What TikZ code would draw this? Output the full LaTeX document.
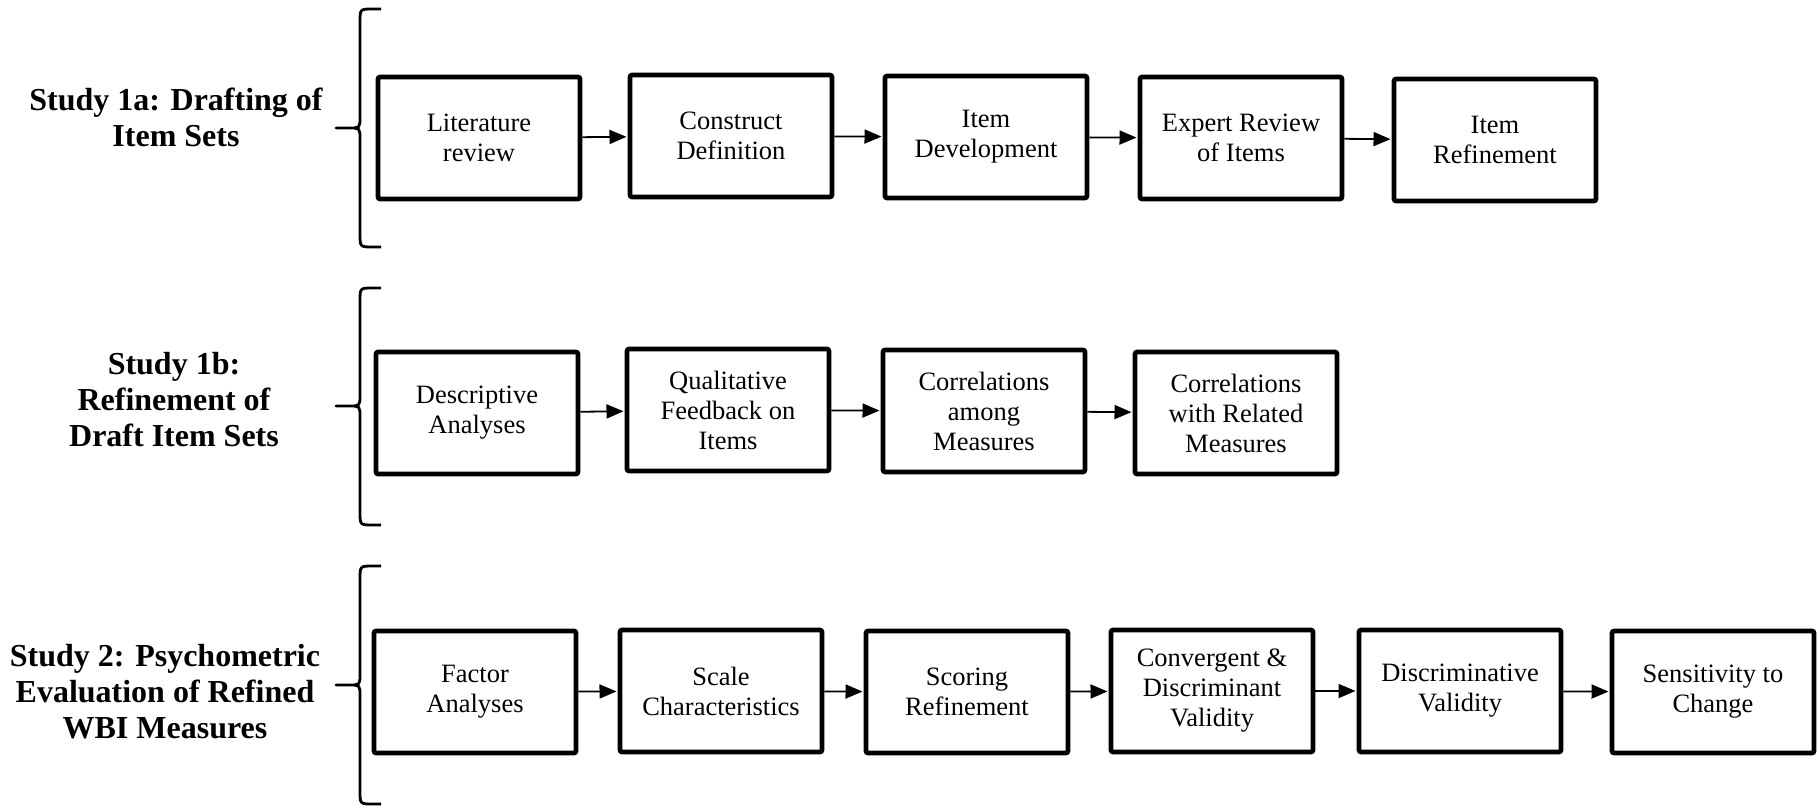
\documentclass[tikz,border=0pt]{standalone}
\usepackage{fontspec}
\setmainfont{Liberation Serif}
\newfontfamily\boxfont{Liberation Serif}
\usetikzlibrary{arrows.meta}

\begin{document}
\begin{tikzpicture}[x=0.5pt, y=-0.5pt,
    stepbox/.style={draw, line width=2.3pt, rounded corners=1pt, minimum width=101pt, minimum height=61pt, align=center, inner sep=2pt, font=\boxfont\fontsize{13.25pt}{15pt}\selectfont},
    arr/.style={-{Triangle[length=8.5pt,width=7pt]}, line width=0.9pt, shorten >=0.6pt},
    studylbl/.style={align=center, font=\boxfont\fontsize{16pt}{18pt}\selectfont\bfseries},
    brc/.style={line width=1.4pt, line join=round}
]
\useasboundingbox (0,0) rectangle (1819,808);

% study labels
\node[studylbl] (s1a) at (176,117) {Study 1a: Drafting of\\Item Sets};
\node[studylbl] (s1b) at (174,400) {Study 1b:\\Refinement of\\Draft Item Sets};
\node[studylbl] (s2) at (165,692) {Study 2: Psychometric\\Evaluation of Refined\\WBI Measures};

% braces
\foreach \t/\m/\b in {9/128/247, 288/406/525, 566/685/804}
  \draw[brc] (381,\t) -- (373,\t) .. controls (360,\t) .. (360,\t+13) -- (360,\m-11)
    .. controls (360,\m) .. (349,\m) -- (336,\m) -- (349,\m)
    .. controls (360,\m) .. (360,\m+11) -- (360,\b-13) .. controls (360,\b) .. (373,\b) -- (381,\b);

% study 1a
\node[stepbox] (lit) at (479,138) {Literature\\review};
\node[stepbox] (cons) at (731,136) {Construct\\Definition};
\node[stepbox] (idev) at (986,137) {Item\\Development};
\node[stepbox] (expr) at (1241,138) {Expert Review\\of Items};
\node[stepbox] (iref) at (1495,140) {Item\\Refinement};

% study 1b
\node[stepbox] (desc) at (477,413) {Descriptive\\Analyses};
\node[stepbox] (qual) at (728,410) {Qualitative\\Feedback on\\Items};
\node[stepbox] (corm) at (984,411) {Correlations\\among\\Measures};
\node[stepbox] (corr) at (1236,413) {Correlations\\with Related\\Measures};

% study 2
\node[stepbox] (fact) at (475,692) {Factor\\Analyses};
\node[stepbox] (scal) at (721,691) {Scale\\Characteristics};
\node[stepbox] (scor) at (967,692) {Scoring\\Refinement};
\node[stepbox] (conv) at (1212,691) {Convergent \&\\Discriminant\\Validity};
\node[stepbox] (disc) at (1460,691) {Discriminative\\Validity};
\node[stepbox] (sens) at (1713,692) {Sensitivity to\\Change};

\draw[arr] (lit) -- (cons);
\draw[arr] (cons) -- (idev);
\draw[arr] (idev) -- (expr);
\draw[arr] (expr) -- (iref);

\draw[arr] (desc) -- (qual);
\draw[arr] (qual) -- (corm);
\draw[arr] (corm) -- (corr);

\draw[arr] (fact) -- (scal);
\draw[arr] (scal) -- (scor);
\draw[arr] (scor) -- (conv);
\draw[arr] (conv) -- (disc);
\draw[arr] (disc) -- (sens);
\end{tikzpicture}
\end{document}
